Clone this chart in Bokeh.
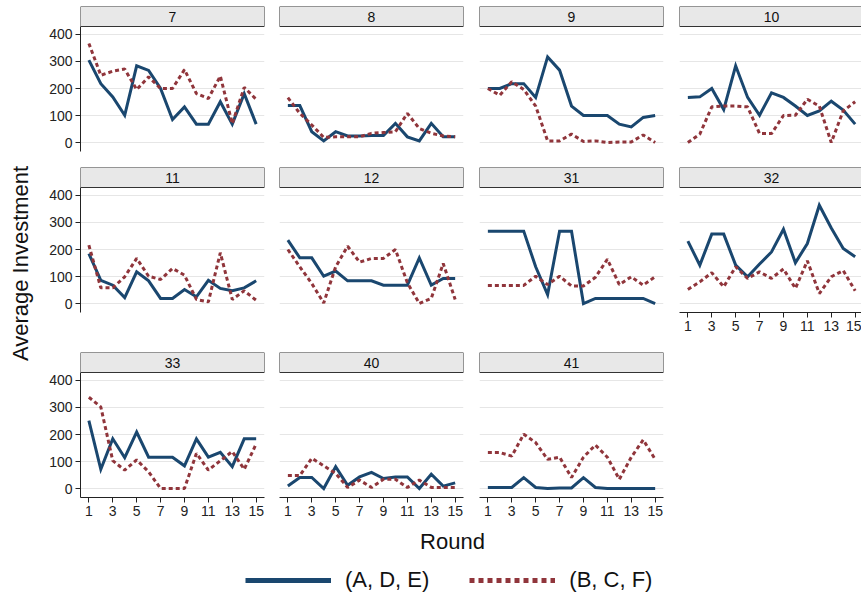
import math
from bokeh.plotting import figure
from bokeh.models import (Range1d, LinearAxis, Grid, FixedTicker, BoxAnnotation,
                          Label, Legend, LegendItem, ColumnDataSource)
from bokeh.layouts import row, column
from bokeh.embed import file_html
from bokeh.resources import INLINE

FONT = "Liberation Sans"
NAVY = "#1a476f"
MAROON = "#90353b"

# ---------------- data ----------------
rounds = list(range(1, 16))
x_ticks = [1, 3, 5, 7, 9, 11, 13, 15]
y_ticks = [0, 100, 200, 300, 400]
series_labels = ["(A, D, E)", "(B, C, F)"]
x_title = "Round"
y_title = "Average Investment"

ade_7 = [305, 218, 169, 101, 284, 267, 200, 85, 132, 68, 68, 151, 68, 181, 68]
bcf_7 = [367, 249, 264, 272, 196, 243, 200, 200, 270, 181, 163, 246, 70, 204, 160]
ade_8 = [137, 137, 40, 6, 40, 24, 24, 26, 26, 71, 21, 6, 71, 21, 21]
bcf_8 = [166, 108, 65, 19, 21, 21, 21, 34, 37, 40, 108, 52, 34, 24, 21]
ade_9 = [200, 200, 218, 218, 167, 317, 268, 135, 100, 100, 100, 68, 58, 93, 100]
bcf_9 = [200, 175, 225, 196, 135, 6, 6, 31, 4, 6, 0, 2, 2, 28, 0]
ade_10 = [167, 169, 200, 122, 284, 167, 101, 184, 167, 135, 100, 117, 153, 120, 68]
bcf_10 = [0, 31, 132, 135, 135, 132, 33, 33, 100, 101, 160, 135, 0, 117, 151]
ade_11 = [185, 86, 68, 22, 117, 84, 19, 19, 52, 25, 86, 56, 47, 58, 84]
bcf_11 = [216, 58, 58, 99, 167, 101, 89, 130, 105, 15, 6, 188, 15, 47, 12]
ade_12 = [235, 169, 169, 101, 120, 84, 84, 84, 68, 68, 68, 169, 68, 93, 93]
bcf_12 = [200, 136, 74, 2, 136, 212, 153, 167, 167, 200, 77, 0, 19, 148, 15]
ade_31 = [268, 268, 268, 268, 136, 33, 268, 268, 0, 19, 19, 19, 19, 19, 0]
bcf_31 = [67, 67, 67, 67, 101, 70, 101, 65, 65, 97, 164, 70, 99, 68, 99]
ade_32 = [231, 142, 257, 257, 142, 99, 146, 191, 275, 151, 222, 364, 280, 204, 173]
bcf_32 = [52, 80, 114, 62, 136, 93, 117, 93, 128, 56, 158, 37, 99, 122, 47]
ade_33 = [251, 71, 184, 114, 209, 116, 116, 116, 84, 184, 116, 134, 81, 184, 184]
bcf_33 = [338, 302, 103, 68, 106, 62, 0, 0, 0, 130, 68, 103, 137, 71, 165]
ade_40 = [9, 41, 41, 0, 81, 12, 43, 60, 37, 43, 43, 0, 53, 9, 21]
bcf_40 = [48, 48, 112, 84, 56, 4, 31, 4, 34, 34, 4, 31, 4, 4, 4]
ade_41 = [4, 4, 4, 40, 4, 0, 2, 2, 40, 4, 0, 0, 0, 0, 0]
bcf_41 = [133, 133, 120, 201, 170, 108, 116, 41, 116, 161, 116, 34, 116, 180, 108]

panel_names = ["7", "8", "9", "10", "11", "12", "31", "32", "33", "40", "41"]
panel_ade = [ade_7, ade_8, ade_9, ade_10, ade_11, ade_12, ade_31, ade_32, ade_33, ade_40, ade_41]
panel_bcf = [bcf_7, bcf_8, bcf_9, bcf_10, bcf_11, bcf_12, bcf_31, bcf_32, bcf_33, bcf_40, bcf_41]

# ---------------- layout constants ----------------
Y0 = -33.3       # bottom of plot region (data units)
HB = 429.6       # bottom of header strip (data units)
PX = 0.27        # px per data unit (y)
XPX = 11.95      # px per round (x)
X0 = 0.3
FRAME_H = 145
HEADER_PX = 20


def no_grids(p):
    for g in p.grid:
        g.visible = False


def make_panel(idx, name, ade, bcf):
    r, c = divmod(idx, 4)
    y1 = HB + HEADER_PX / PX
    fw = 182 if c == 3 else 184
    x1 = X0 + fw / XPX
    ml = 44 if c == 0 else 8
    mr = {0: 7, 1: 8, 2: 8, 3: 0}[c]
    mt = 6 if r == 0 else 0
    mb = {0: 16, 1: 40, 2: 30}[r]
    p = figure(frame_width=fw, frame_height=FRAME_H,
               x_range=Range1d(X0, x1), y_range=Range1d(Y0, y1),
               x_axis_location=None, y_axis_location=None,
               toolbar_location=None, output_backend="svg",
               min_border_left=ml, min_border_right=mr,
               min_border_top=mt, min_border_bottom=mb,
               outline_line_color=None,
               background_fill_color="white", border_fill_color="white")
    no_grids(p)
    p.add_layout(Grid(dimension=1, ticker=FixedTicker(ticks=y_ticks),
                      grid_line_color="#e6e6e6", grid_line_width=1))

    src = ColumnDataSource(dict(round=rounds, ade=ade, bcf=bcf))
    p.line("round", "ade", source=src, line_color=NAVY, line_width=3,
           line_join="miter")
    p.line("round", "bcf", source=src, line_color=MAROON, line_width=3,
           line_dash="4 3")

    p.add_layout(BoxAnnotation(left=X0, right=x1, bottom=HB, top=y1,
                               fill_color="#e8e8e8", fill_alpha=1.0,
                               line_color="#333333", line_width=1, line_alpha=1.0))
    p.add_layout(Label(x=X0 + 92 / XPX, y=(HB + y1) / 2, text=name,
                       text_align="center", text_baseline="middle",
                       text_font=FONT, text_font_size="14px", text_color="#111111"))

    if c == 0:
        ax = LinearAxis(ticker=FixedTicker(ticks=y_ticks), bounds=(Y0, HB),
                        axis_line_color="#222222", major_tick_line_color="#222222",
                        major_tick_out=5, major_tick_in=0,
                        minor_tick_line_color=None, major_label_standoff=3,
                        major_label_text_font=FONT, major_label_text_font_size="14px",
                        major_label_text_color="#222222")
        p.add_layout(ax, "left")
    show_x = (r == 2) or (idx == 7)
    if show_x:
        ax = LinearAxis(ticker=FixedTicker(ticks=x_ticks),
                        axis_line_color="#222222", major_tick_line_color="#222222",
                        major_tick_out=5, major_tick_in=0,
                        minor_tick_line_color=None, major_label_standoff=3,
                        major_label_text_font=FONT, major_label_text_font_size="14px",
                        major_label_text_color="#222222")
        p.add_layout(ax, "below")
    return p


figs = [make_panel(i, n, a, b) for i, (n, a, b) in
        enumerate(zip(panel_names, panel_ade, panel_bcf))]

grid_col = column(row(*figs[0:4]), row(*figs[4:8]), row(*figs[8:11]))


def text_fig(w, h, xr=(0, 1), yr=(0, 1)):
    f = figure(width=w, height=h, x_range=Range1d(*xr), y_range=Range1d(*yr),
               x_axis_location=None, y_axis_location=None,
               toolbar_location=None, output_backend="svg",
               min_border=0, outline_line_color=None,
               background_fill_color="white", border_fill_color="white")
    no_grids(f)
    return f


ylab = text_fig(36, 527)
ylab.add_layout(Label(x=0.569, y=0.501, text=y_title, angle=math.pi / 2,
                      text_align="center", text_baseline="middle",
                      text_font=FONT, text_font_size="22px", text_color="#111111"))

xlab = text_fig(861, 28)
xlab.add_layout(Label(x=0.525, y=0.5, text=x_title,
                      text_align="center", text_baseline="middle",
                      text_font=FONT, text_font_size="22px", text_color="#111111"))

# legend figure: proxy renderers use real series data but lie outside its view range
legf = text_fig(861, 46, xr=(100, 101), yr=(1000, 1001))
r_a = legf.line(rounds, ade_7, line_color=NAVY, line_width=5)
r_b = legf.line(rounds, bcf_7, line_color=MAROON, line_width=5, line_dash="5 4")
legend = Legend(items=[LegendItem(label=series_labels[0], renderers=[r_a]),
                       LegendItem(label=series_labels[1], renderers=[r_b])],
                orientation="horizontal", location=(245, 8),
                glyph_width=86, glyph_height=20, label_standoff=14, spacing=40,
                padding=0, margin=0, border_line_color=None,
                background_fill_alpha=0.0,
                label_text_font=FONT, label_text_font_size="22px",
                label_text_color="#111111")
legf.add_layout(legend, "center")

layout = column(row(ylab, grid_col), xlab, legf)

open("out.html", "w").write(file_html(layout, INLINE))
